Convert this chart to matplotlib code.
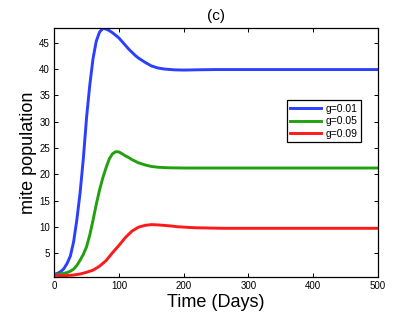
import matplotlib
matplotlib.use('Agg')
import matplotlib.pyplot as plt
import numpy as np

plt.rcParams['font.family'] = ['Liberation Sans', 'DejaVu Sans']

# values
t_blue = [0, 5, 10, 15, 20, 25, 30, 35, 40, 45, 50, 55, 60, 65, 70, 75, 80, 85, 90, 95,
          100, 105, 110, 115, 120, 125, 130, 140, 150, 160, 170, 185, 200, 220, 250,
          300, 350, 400, 450, 500]
v_blue = [1.0, 1.2, 1.5, 2.1, 3.1, 4.5, 7.2, 11.4, 16.5, 23.0, 30.8, 37.0, 42.0, 45.3, 47.0,
          47.7, 47.6, 47.3, 46.9, 46.4, 45.9, 45.2, 44.5, 43.8, 43.2, 42.6, 42.1, 41.3,
          40.6, 40.2, 40.0, 39.85, 39.8, 39.85, 39.9, 39.9, 39.9, 39.9, 39.9, 39.9]

t_green = [0, 5, 10, 15, 20, 25, 30, 35, 40, 45, 50, 55, 60, 65, 70, 75, 80, 85, 90, 95,
           100, 105, 110, 115, 120, 125, 130, 140, 150, 160, 175, 200, 250, 300, 350,
           400, 450, 500]
v_green = [0.95, 0.97, 1.05, 1.2, 1.35, 1.6, 2.0, 2.7, 3.7, 4.8, 6.25, 8.5, 11.3, 14.3, 17.0,
           19.3, 21.2, 22.9, 23.9, 24.3, 24.25, 23.9, 23.5, 23.2, 22.8, 22.5, 22.2, 21.8,
           21.5, 21.35, 21.25, 21.2, 21.2, 21.2, 21.2, 21.2, 21.2, 21.2]

t_red = [0, 10, 20, 30, 40, 50, 60, 70, 80, 90, 100, 110, 120, 130, 140, 150, 160, 170,
         180, 190, 200, 210, 220, 240, 260, 300, 350, 400, 450, 500]
v_red = [0.85, 0.75, 0.78, 0.88, 1.07, 1.4, 1.8, 2.55, 3.6, 5.1, 6.5, 8.0, 9.2, 9.95, 10.3,
         10.45, 10.4, 10.3, 10.2, 10.05, 9.98, 9.9, 9.85, 9.8, 9.75, 9.75, 9.75, 9.75,
         9.75, 9.75]

labels = ['g=0.01', 'g=0.05', 'g=0.09']
x_ticks = [0, 100, 200, 300, 400, 500]
y_ticks = [5, 10, 15, 20, 25, 30, 35, 40, 45]

fig = plt.figure(figsize=(4.17, 3.13), dpi=100)
ax = fig.add_axes([0.130, 0.116, 0.776, 0.793])

ax.plot(t_blue, v_blue, color='#2b3fff', lw=2.1, label=labels[0])
ax.plot(t_green, v_green, color='#22a010', lw=2.1, label=labels[1])
ax.plot(t_red, v_red, color='#ff1a1a', lw=2.1, label=labels[2])

ax.set_xlim(0, 500)
ax.set_ylim(0.56, max(v_blue))
ax.set_xticks(x_ticks)
ax.set_yticks(y_ticks)
ax.tick_params(direction='in', top=True, right=True, length=3, width=0.7, labelsize=7, pad=3)
for s in ax.spines.values():
    s.set_linewidth(0.9)

ax.set_xlabel('Time (Days)', fontsize=13, labelpad=2)
ax.set_ylabel('mite population', fontsize=13, labelpad=2)
ax.set_title('(c)', fontsize=11, pad=6)

leg = ax.legend(loc='upper left', bbox_to_anchor=(0.7186, 0.712), fontsize=7.5,
                handlelength=2.9, labelspacing=0.25, borderpad=0.35, handletextpad=0.45,
                fancybox=False, framealpha=1, borderaxespad=0)
leg.get_frame().set_edgecolor('black')
leg.get_frame().set_linewidth(0.9)

fig.savefig('out.png', dpi=100)
